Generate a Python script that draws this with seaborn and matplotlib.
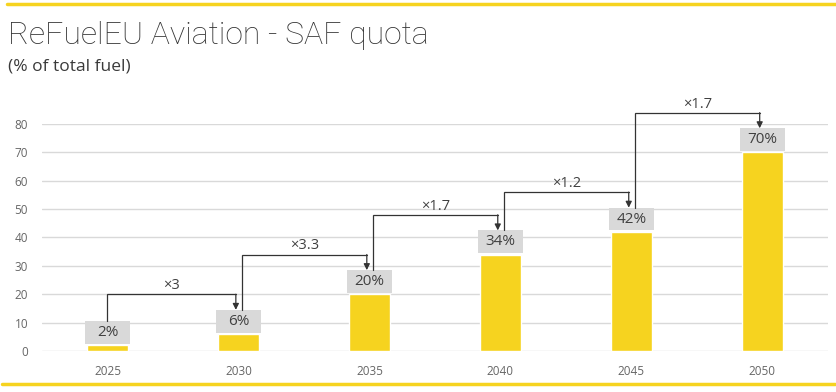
import matplotlib
matplotlib.use("Agg")
import matplotlib.pyplot as plt
from matplotlib.patches import Rectangle
import seaborn as sns
import pandas as pd

# SAF quota by year (% of total fuel)
years = ["2025", "2030", "2035", "2040", "2045", "2050"]
quota = [2, 6, 20, 34, 42, 70]
value_labels = ["2%", "6%", "20%", "34%", "42%", "70%"]
step_labels = ["×3", "×3.3", "×1.7", "×1.2", "×1.7"]

yellow = "#F6D31F"
dark = "#333333"
grey_box = "#D9D9D9"

sns.set_theme(style="white")
plt.rcParams["font.family"] = ["Open Sans", "DejaVu Sans"]

df = pd.DataFrame({"year": years, "quota": quota})

fig = plt.figure(figsize=(8.37, 3.92), dpi=100)
ax = fig.add_axes([0.0502, 0.1046, 0.9388, 0.5791])

sns.barplot(data=df, x="year", y="quota", color=yellow, saturation=1,
            width=0.31, ax=ax, zorder=3)

ax.set_ylim(0, 80)
ax.set_xlim(-0.5, len(years) - 0.5)
ax.set_yticks(range(0, 81, 10))
ax.yaxis.grid(True, color="#D9D9D9", lw=1, zorder=0)
ax.set_axisbelow(True)
for s in ax.spines.values():
    s.set_visible(False)
ax.set_xlabel("")
ax.set_ylabel("")
ax.tick_params(axis="both", length=0, labelsize=8.5, colors="#666666")
ax.tick_params(axis="y", pad=10)
ax.tick_params(axis="x", pad=10)

# grey value boxes
box_w, box_gap, box_h = 0.345, 0.5, 8.0
box_tops = []
for i, (v, lab) in enumerate(zip(quota, value_labels)):
    y0 = v + box_gap
    ax.add_patch(Rectangle((i - box_w / 2, y0), box_w, box_h, facecolor=grey_box,
                           edgecolor="none", zorder=4, clip_on=False))
    ax.text(i, y0 + box_h / 2, lab, ha="center", va="center", fontsize=11,
            color="#404040", zorder=5)
    box_tops.append(y0 + box_h)

# growth brackets between consecutive years
for i, lab in enumerate(step_labels):
    x0 = i + (0.0 if i == 0 else 0.025)
    x1 = i + 1 - 0.02
    level = box_tops[i + 1] + 5.5
    ax.plot([x0, x0, x1], [box_tops[i], level, level], color=dark, lw=0.9,
            zorder=5, clip_on=False, solid_joinstyle="miter")
    ax.annotate("", xy=(x1, box_tops[i + 1]), xytext=(x1, level),
                arrowprops=dict(arrowstyle="-|>", color=dark, lw=0.9,
                                mutation_scale=9, shrinkA=0, shrinkB=0),
                zorder=5, annotation_clip=False)
    ax.text((x0 + x1) / 2, level + 0.4, lab, ha="center", va="bottom",
            fontsize=10.5, color="#404040")

# title and subtitle
fig.text(0.009, 0.887, "ReFuelEU Aviation - SAF quota", fontsize=23,
         color="#333333", family=["Roboto", "DejaVu Sans"], weight="light",
         va="baseline")
fig.text(0.010, 0.82, "(% of total fuel)", fontsize=12.5, color="#3A3A3A",
         va="baseline")

# yellow rules top and bottom
fig.add_artist(plt.Line2D([0.008, 1.0], [0.989, 0.989], color=yellow, lw=2.5,
                          transform=fig.transFigure))
fig.add_artist(plt.Line2D([0.002, 0.998], [0.02, 0.02], color=yellow, lw=2.5,
                          transform=fig.transFigure))

fig.savefig("out.png", dpi=100, facecolor="white")
